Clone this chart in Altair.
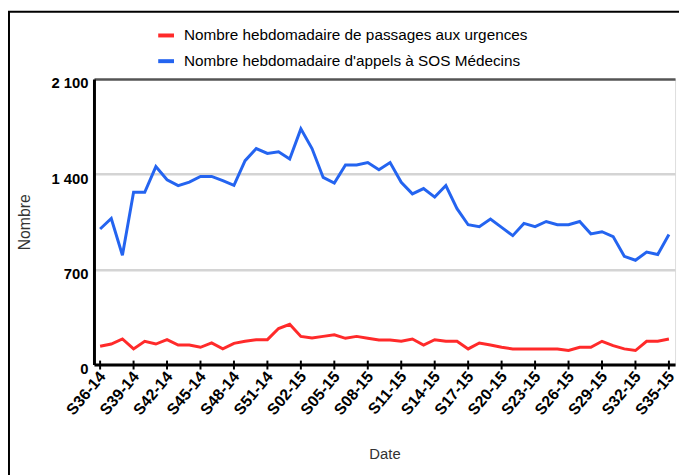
import altair as alt
import pandas as pd

weeks = [
    "S36-14", "S37-14", "S38-14", "S39-14", "S40-14", "S41-14", "S42-14", "S43-14", "S44-14",
    "S45-14", "S46-14", "S47-14", "S48-14", "S49-14", "S50-14", "S51-14", "S52-14",
    "S01-15", "S02-15", "S03-15", "S04-15", "S05-15", "S06-15", "S07-15", "S08-15", "S09-15",
    "S10-15", "S11-15", "S12-15", "S13-15", "S14-15", "S15-15", "S16-15", "S17-15", "S18-15",
    "S19-15", "S20-15", "S21-15", "S22-15", "S23-15", "S24-15", "S25-15", "S26-15", "S27-15",
    "S28-15", "S29-15", "S30-15", "S31-15", "S32-15", "S33-15", "S34-15", "S35-15",
]

urgences = [
    135, 151, 188, 115, 171, 151, 183, 144, 144, 127,
    159, 115, 156, 171, 183, 183, 265, 296, 207, 195,
    207, 219, 193, 207, 193, 180, 180, 171, 188, 144,
    183, 171, 171, 115, 159, 144, 127, 115, 115, 115,
    115, 115, 103, 127, 127, 171, 139, 115, 103, 171,
    171, 188,
]

sos = [
    997, 1074, 804, 1267, 1267, 1456, 1359, 1316, 1342, 1383,
    1383, 1352, 1318, 1499, 1588, 1552, 1564, 1511, 1733, 1588,
    1376, 1335, 1468, 1468, 1485, 1432, 1485, 1340, 1255, 1294,
    1231, 1316, 1146, 1028, 1014, 1070, 1009, 948, 1038, 1014,
    1052, 1028, 1028, 1052, 961, 977, 941, 796, 767, 827,
    809, 956,
]

series_names = [
    "Nombre hebdomadaire de passages aux urgences",
    "Nombre hebdomadaire d'appels à SOS Médecins",
]
series_colors = ["#FF2A2A", "#2464F0"]
y_ticks = [0, 700, 1400, 2100]
tick_weeks = weeks[::3]

FONT = "Liberation Sans"
W, H = 588, 289

df = pd.DataFrame({
    "week": weeks + weeks,
    "value": urgences + sos,
    "series": [series_names[0]] * len(weeks) + [series_names[1]] * len(weeks),
})
df_ticks = pd.DataFrame({"week": tick_weeks})
df_frame = pd.DataFrame({"a": [0]})

x_enc = alt.X(
    "week:N",
    sort=weeks,
    scale=alt.Scale(type="point", padding=0.55),
    axis=alt.Axis(
        values=tick_weeks,
        labelAngle=-50,
        labelAlign="right",
        labelBaseline="middle",
        labelFont=FONT,
        labelFontSize=16,
        labelFontWeight="bold",
        labelColor="black",
        labelPadding=9,
        labelOffset=2,
        ticks=False,
        grid=False,
        domainColor="black",
        domainWidth=3,
        title="Date",
        titleFont=FONT,
        titleFontSize=15,
        titleFontWeight="normal",
        titleColor="#333333",
        titleX=W / 2,
        titleY=90,
        titleBaseline="middle",
    ),
)

y_enc = alt.Y(
    "value:Q",
    scale=alt.Scale(domain=[0, 2100], nice=False),
    axis=alt.Axis(
        values=y_ticks,
        labelExpr="replace(format(datum.value, ','), ',', ' ')",
        labelFont=FONT,
        labelFontSize=15,
        labelFontWeight="bold",
        labelColor="black",
        labelPadding=6,
        labelOffset=4,
        ticks=False,
        domainColor="black",
        domainWidth=3,
        gridColor={"condition": {"test": "datum.value === 2100", "value": "#555555"}, "value": "#d4d4d4"},
        gridWidth=2.5,
        title="Nombre",
        titleFont=FONT,
        titleFontSize=16,
        titleFontWeight="normal",
        titleColor="#333333",
        titleX=-70,
        titleY=H / 2,
        titleBaseline="middle",
    ),
)

lines = alt.Chart(df).mark_line(strokeWidth=3).encode(
    x=x_enc,
    y=y_enc,
    color=alt.Color(
        "series:N",
        scale=alt.Scale(domain=series_names, range=series_colors),
        legend=alt.Legend(
            orient="none",
            legendX=63,
            legendY=-54,
            direction="vertical",
            title=None,
            symbolType="stroke",
            symbolSize=256,
            symbolStrokeWidth=4,
            labelFont=FONT,
            labelFontSize=15.5,
            labelColor="black",
            labelOffset=8,
            labelLimit=0,
            rowPadding=7,
            padding=0,
        ),
    ),
    detail="series:N",
)

ticks = alt.Chart(df_ticks).mark_rule(color="black", strokeWidth=2).encode(
    x=alt.X("week:N", sort=weeks),
    y=alt.value(H - 4),
    y2=alt.value(H + 5),
)

frame = alt.Chart(df_frame).mark_rect(fillOpacity=0, stroke="black", strokeWidth=2).encode(
    x=alt.value(-86), x2=alt.value(W + 60), y=alt.value(-68), y2=alt.value(H + 200)
)

chart = alt.layer(frame, lines, ticks).properties(
    width=W,
    height=H,
    autosize=alt.AutoSizeParams(type="none"),
    padding={"left": 87, "top": 69, "right": 4, "bottom": 112},
).configure_view(stroke=None).configure(background="white")

chart.save("out.html", embed_options={"renderer": "svg", "actions": False})
